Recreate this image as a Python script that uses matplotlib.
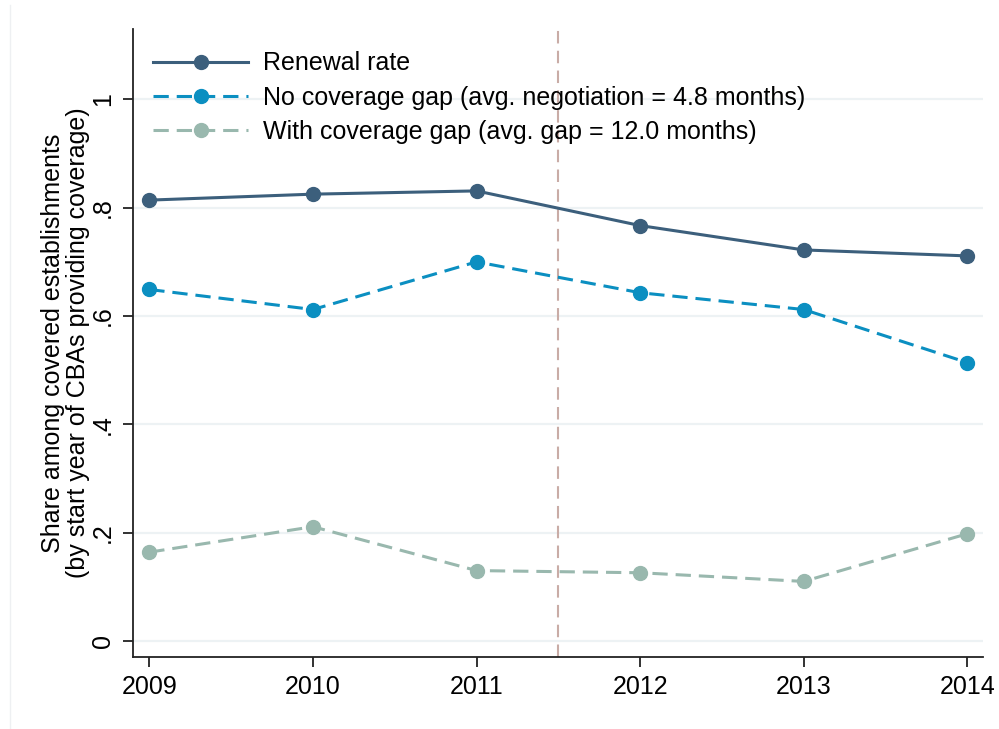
import matplotlib
matplotlib.use("Agg")
import matplotlib.pyplot as plt
from matplotlib.lines import Line2D

plt.rcParams["font.family"] = ["Liberation Sans", "DejaVu Sans"]

# data
years = [2009, 2010, 2011, 2012, 2013, 2014]
renewal_rate = [0.814, 0.825, 0.831, 0.767, 0.722, 0.711]
no_gap = [0.649, 0.612, 0.700, 0.643, 0.612, 0.514]
with_gap = [0.164, 0.211, 0.130, 0.126, 0.110, 0.198]

break_year = 2011.5
y_ticks = [0, 0.2, 0.4, 0.6, 0.8, 1.0]
y_tick_labels = ["0", ".2", ".4", ".6", ".8", "1"]

labels = [
    "Renewal rate",
    "No coverage gap (avg. negotiation = 4.8 months)",
    "With coverage gap (avg. gap = 12.0 months)",
]

c_renew = "#3c5f7c"
c_nogap = "#0b8fc1"
c_gap = "#99b8ae"
c_vline = "#c9aca6"
c_grid = "#edf2f4"

W, H = 999, 729
fig = plt.figure(figsize=(W / 100, H / 100), dpi=100)
ax = fig.add_axes([133.3 / W, 1 - 656.7 / H, (982.7 - 133.3) / W, (656.7 - 29.5) / H])

# faint outer border on the left
fig.add_artist(Line2D([10 / W, 10 / W], [0, 1 - 5 / H], transform=fig.transFigure,
                      color="#eef0f2", lw=1.0))

for yt in y_ticks:
    ax.axhline(yt, color=c_grid, lw=1.6, zorder=0)

ax.axvline(break_year, color=c_vline, lw=1.5, dashes=(6, 3.5), zorder=1)

lw = 2.2
ms = 10
ax.plot(years, renewal_rate, color=c_renew, lw=lw, marker="o", ms=ms,
        label=labels[0], zorder=3)
ax.plot(years, no_gap, color=c_nogap, lw=lw, marker="o", ms=ms,
        dashes=(5, 2.6), label=labels[1], zorder=3)
ax.plot(years, with_gap, color=c_gap, lw=lw, marker="o", ms=ms,
        dashes=(5, 2.6), label=labels[2], zorder=3)

ax.set_xlim(2008.902, 2014.094)
ax.set_ylim(-0.029, 1.129)
ax.set_xticks(years)
ax.set_xticklabels([str(y) for y in years])
ax.set_yticks(y_ticks)
ax.set_yticklabels(y_tick_labels, rotation=90, va="center")

for side in ["top", "right"]:
    ax.spines[side].set_visible(False)
for side in ["left", "bottom"]:
    ax.spines[side].set_linewidth(1.3)
    ax.spines[side].set_color("#222222")

ax.tick_params(axis="both", direction="out", length=7.2, width=1.3,
               color="#222222", labelsize=18, labelcolor="black")
ax.tick_params(axis="x", pad=6)
ax.tick_params(axis="y", pad=6)

ax.set_ylabel("Share among covered establishments\n(by start year of CBAs providing coverage)",
              fontsize=18, linespacing=1.02, labelpad=1)

leg = ax.legend(loc="upper left", bbox_to_anchor=(20 / 849.4, 1 - 22 / 627.2),
                frameon=False, fontsize=18, handlelength=3.8, handletextpad=0.6,
                labelspacing=0.41, borderaxespad=0, borderpad=0)

fig.savefig("out.png", dpi=100)
